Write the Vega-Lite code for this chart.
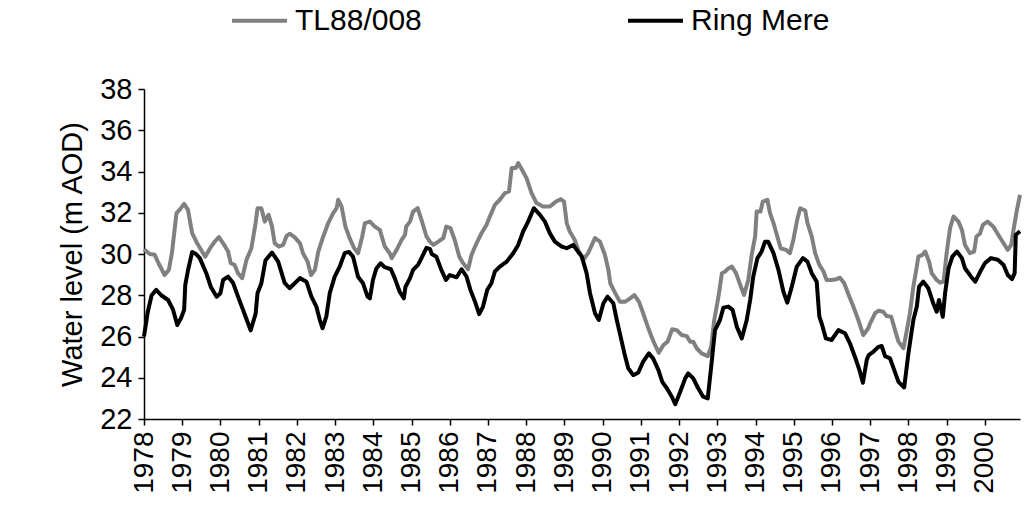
{
  "$schema": "https://vega.github.io/schema/vega-lite/v6.json",
  "autosize": {"type": "none"},
  "width": 876,
  "height": 330,
  "padding": {"left": 144, "top": 89, "right": 11, "bottom": 99},
  "background": "white",
  "config": {
    "view": {"stroke": null},
    "font": "Liberation Sans",
    "axis": {"grid": false, "domainColor": "black", "tickColor": "black", "labelColor": "black", "titleColor": "black", "domainWidth": 1.5, "tickWidth": 1.5}
  },
  "datasets": {
    "series": [
      {"s":"TL88/008","t":1978.0,"v":30.23},{"s":"TL88/008","t":1978.15,"v":30.0},{"s":"TL88/008","t":1978.28,"v":29.96},{"s":"TL88/008","t":1978.38,"v":29.55},{"s":"TL88/008","t":1978.54,"v":28.98},{"s":"TL88/008","t":1978.65,"v":29.23},{"s":"TL88/008","t":1978.73,"v":30.04},{"s":"TL88/008","t":1978.85,"v":31.98},{"s":"TL88/008","t":1978.93,"v":32.14},{"s":"TL88/008","t":1979.05,"v":32.43},{"s":"TL88/008","t":1979.15,"v":32.14},{"s":"TL88/008","t":1979.26,"v":31.01},{"s":"TL88/008","t":1979.39,"v":30.52},{"s":"TL88/008","t":1979.52,"v":30.12},{"s":"TL88/008","t":1979.6,"v":29.87},{"s":"TL88/008","t":1979.73,"v":30.28},{"s":"TL88/008","t":1979.85,"v":30.6},{"s":"TL88/008","t":1979.96,"v":30.82},{"s":"TL88/008","t":1980.07,"v":30.52},{"s":"TL88/008","t":1980.2,"v":30.12},{"s":"TL88/008","t":1980.27,"v":29.55},{"s":"TL88/008","t":1980.37,"v":29.47},{"s":"TL88/008","t":1980.46,"v":29.07},{"s":"TL88/008","t":1980.57,"v":28.83},{"s":"TL88/008","t":1980.68,"v":29.71},{"s":"TL88/008","t":1980.81,"v":30.28},{"s":"TL88/008","t":1980.92,"v":31.5},{"s":"TL88/008","t":1980.97,"v":32.22},{"s":"TL88/008","t":1981.07,"v":32.22},{"s":"TL88/008","t":1981.16,"v":31.57},{"s":"TL88/008","t":1981.26,"v":31.9},{"s":"TL88/008","t":1981.35,"v":31.33},{"s":"TL88/008","t":1981.42,"v":30.52},{"s":"TL88/008","t":1981.53,"v":30.36},{"s":"TL88/008","t":1981.64,"v":30.44},{"s":"TL88/008","t":1981.73,"v":30.88},{"s":"TL88/008","t":1981.81,"v":30.98},{"s":"TL88/008","t":1981.94,"v":30.82},{"s":"TL88/008","t":1982.08,"v":30.52},{"s":"TL88/008","t":1982.16,"v":30.04},{"s":"TL88/008","t":1982.28,"v":29.63},{"s":"TL88/008","t":1982.37,"v":28.98},{"s":"TL88/008","t":1982.47,"v":29.23},{"s":"TL88/008","t":1982.56,"v":30.12},{"s":"TL88/008","t":1982.69,"v":30.85},{"s":"TL88/008","t":1982.82,"v":31.5},{"s":"TL88/008","t":1982.95,"v":31.98},{"s":"TL88/008","t":1983.04,"v":32.22},{"s":"TL88/008","t":1983.08,"v":32.63},{"s":"TL88/008","t":1983.17,"v":32.3},{"s":"TL88/008","t":1983.27,"v":31.33},{"s":"TL88/008","t":1983.38,"v":30.77},{"s":"TL88/008","t":1983.5,"v":30.28},{"s":"TL88/008","t":1983.6,"v":30.04},{"s":"TL88/008","t":1983.71,"v":30.85},{"s":"TL88/008","t":1983.78,"v":31.5},{"s":"TL88/008","t":1983.91,"v":31.57},{"s":"TL88/008","t":1984.04,"v":31.33},{"s":"TL88/008","t":1984.17,"v":31.17},{"s":"TL88/008","t":1984.3,"v":30.36},{"s":"TL88/008","t":1984.43,"v":30.04},{"s":"TL88/008","t":1984.48,"v":29.8},{"s":"TL88/008","t":1984.61,"v":30.2},{"s":"TL88/008","t":1984.74,"v":30.68},{"s":"TL88/008","t":1984.83,"v":30.93},{"s":"TL88/008","t":1984.86,"v":31.33},{"s":"TL88/008","t":1984.96,"v":31.57},{"s":"TL88/008","t":1985.04,"v":32.06},{"s":"TL88/008","t":1985.16,"v":32.22},{"s":"TL88/008","t":1985.26,"v":31.66},{"s":"TL88/008","t":1985.39,"v":30.85},{"s":"TL88/008","t":1985.48,"v":30.6},{"s":"TL88/008","t":1985.57,"v":30.44},{"s":"TL88/008","t":1985.7,"v":30.6},{"s":"TL88/008","t":1985.83,"v":30.77},{"s":"TL88/008","t":1985.91,"v":31.33},{"s":"TL88/008","t":1986.02,"v":31.25},{"s":"TL88/008","t":1986.13,"v":30.68},{"s":"TL88/008","t":1986.25,"v":29.87},{"s":"TL88/008","t":1986.35,"v":29.55},{"s":"TL88/008","t":1986.48,"v":29.26},{"s":"TL88/008","t":1986.57,"v":29.96},{"s":"TL88/008","t":1986.7,"v":30.52},{"s":"TL88/008","t":1986.83,"v":31.01},{"s":"TL88/008","t":1986.96,"v":31.41},{"s":"TL88/008","t":1987.05,"v":31.82},{"s":"TL88/008","t":1987.18,"v":32.38},{"s":"TL88/008","t":1987.31,"v":32.63},{"s":"TL88/008","t":1987.44,"v":32.95},{"s":"TL88/008","t":1987.55,"v":33.03},{"s":"TL88/008","t":1987.62,"v":34.17},{"s":"TL88/008","t":1987.73,"v":34.17},{"s":"TL88/008","t":1987.79,"v":34.41},{"s":"TL88/008","t":1987.88,"v":34.12},{"s":"TL88/008","t":1988.01,"v":33.68},{"s":"TL88/008","t":1988.14,"v":32.95},{"s":"TL88/008","t":1988.27,"v":32.47},{"s":"TL88/008","t":1988.44,"v":32.3},{"s":"TL88/008","t":1988.62,"v":32.3},{"s":"TL88/008","t":1988.78,"v":32.54},{"s":"TL88/008","t":1988.9,"v":32.66},{"s":"TL88/008","t":1988.99,"v":32.54},{"s":"TL88/008","t":1989.06,"v":31.5},{"s":"TL88/008","t":1989.14,"v":31.09},{"s":"TL88/008","t":1989.27,"v":30.68},{"s":"TL88/008","t":1989.36,"v":30.2},{"s":"TL88/008","t":1989.49,"v":29.71},{"s":"TL88/008","t":1989.62,"v":30.04},{"s":"TL88/008","t":1989.8,"v":30.77},{"s":"TL88/008","t":1989.93,"v":30.6},{"s":"TL88/008","t":1990.06,"v":29.96},{"s":"TL88/008","t":1990.15,"v":29.23},{"s":"TL88/008","t":1990.2,"v":28.58},{"s":"TL88/008","t":1990.33,"v":28.1},{"s":"TL88/008","t":1990.45,"v":27.69},{"s":"TL88/008","t":1990.59,"v":27.69},{"s":"TL88/008","t":1990.72,"v":27.85},{"s":"TL88/008","t":1990.83,"v":28.01},{"s":"TL88/008","t":1990.95,"v":27.69},{"s":"TL88/008","t":1991.06,"v":27.13},{"s":"TL88/008","t":1991.18,"v":26.48},{"s":"TL88/008","t":1991.28,"v":25.99},{"s":"TL88/008","t":1991.37,"v":25.59},{"s":"TL88/008","t":1991.47,"v":25.21},{"s":"TL88/008","t":1991.59,"v":25.59},{"s":"TL88/008","t":1991.7,"v":25.75},{"s":"TL88/008","t":1991.82,"v":26.35},{"s":"TL88/008","t":1991.94,"v":26.31},{"s":"TL88/008","t":1992.07,"v":26.07},{"s":"TL88/008","t":1992.2,"v":26.02},{"s":"TL88/008","t":1992.29,"v":25.75},{"s":"TL88/008","t":1992.37,"v":25.75},{"s":"TL88/008","t":1992.46,"v":25.43},{"s":"TL88/008","t":1992.59,"v":25.18},{"s":"TL88/008","t":1992.75,"v":25.05},{"s":"TL88/008","t":1992.84,"v":25.5},{"s":"TL88/008","t":1992.92,"v":26.8},{"s":"TL88/008","t":1993.03,"v":27.93},{"s":"TL88/008","t":1993.12,"v":29.07},{"s":"TL88/008","t":1993.21,"v":29.15},{"s":"TL88/008","t":1993.26,"v":29.26},{"s":"TL88/008","t":1993.38,"v":29.39},{"s":"TL88/008","t":1993.49,"v":29.07},{"s":"TL88/008","t":1993.6,"v":28.5},{"s":"TL88/008","t":1993.7,"v":28.01},{"s":"TL88/008","t":1993.81,"v":28.74},{"s":"TL88/008","t":1993.9,"v":29.96},{"s":"TL88/008","t":1993.99,"v":30.85},{"s":"TL88/008","t":1994.03,"v":32.06},{"s":"TL88/008","t":1994.13,"v":32.06},{"s":"TL88/008","t":1994.19,"v":32.54},{"s":"TL88/008","t":1994.31,"v":32.63},{"s":"TL88/008","t":1994.38,"v":31.98},{"s":"TL88/008","t":1994.47,"v":31.5},{"s":"TL88/008","t":1994.57,"v":30.85},{"s":"TL88/008","t":1994.66,"v":30.28},{"s":"TL88/008","t":1994.8,"v":30.2},{"s":"TL88/008","t":1994.9,"v":30.04},{"s":"TL88/008","t":1994.99,"v":30.68},{"s":"TL88/008","t":1995.09,"v":31.66},{"s":"TL88/008","t":1995.17,"v":32.22},{"s":"TL88/008","t":1995.3,"v":32.11},{"s":"TL88/008","t":1995.36,"v":31.5},{"s":"TL88/008","t":1995.47,"v":30.85},{"s":"TL88/008","t":1995.56,"v":30.04},{"s":"TL88/008","t":1995.67,"v":29.47},{"s":"TL88/008","t":1995.78,"v":29.15},{"s":"TL88/008","t":1995.86,"v":28.74},{"s":"TL88/008","t":1995.99,"v":28.74},{"s":"TL88/008","t":1996.12,"v":28.78},{"s":"TL88/008","t":1996.21,"v":28.85},{"s":"TL88/008","t":1996.32,"v":28.58},{"s":"TL88/008","t":1996.42,"v":28.1},{"s":"TL88/008","t":1996.56,"v":27.45},{"s":"TL88/008","t":1996.69,"v":26.8},{"s":"TL88/008","t":1996.82,"v":26.07},{"s":"TL88/008","t":1996.95,"v":26.4},{"s":"TL88/008","t":1997.0,"v":26.64},{"s":"TL88/008","t":1997.13,"v":27.13},{"s":"TL88/008","t":1997.22,"v":27.25},{"s":"TL88/008","t":1997.34,"v":27.2},{"s":"TL88/008","t":1997.43,"v":26.99},{"s":"TL88/008","t":1997.55,"v":26.96},{"s":"TL88/008","t":1997.65,"v":26.31},{"s":"TL88/008","t":1997.74,"v":25.75},{"s":"TL88/008","t":1997.87,"v":25.43},{"s":"TL88/008","t":1997.96,"v":26.31},{"s":"TL88/008","t":1998.04,"v":27.13},{"s":"TL88/008","t":1998.13,"v":28.42},{"s":"TL88/008","t":1998.22,"v":29.39},{"s":"TL88/008","t":1998.26,"v":29.87},{"s":"TL88/008","t":1998.37,"v":29.96},{"s":"TL88/008","t":1998.44,"v":30.12},{"s":"TL88/008","t":1998.54,"v":29.63},{"s":"TL88/008","t":1998.61,"v":29.07},{"s":"TL88/008","t":1998.74,"v":28.74},{"s":"TL88/008","t":1998.83,"v":28.61},{"s":"TL88/008","t":1998.92,"v":28.66},{"s":"TL88/008","t":1999.0,"v":30.04},{"s":"TL88/008","t":1999.09,"v":31.25},{"s":"TL88/008","t":1999.18,"v":31.82},{"s":"TL88/008","t":1999.31,"v":31.57},{"s":"TL88/008","t":1999.4,"v":31.17},{"s":"TL88/008","t":1999.48,"v":30.44},{"s":"TL88/008","t":1999.61,"v":30.04},{"s":"TL88/008","t":1999.72,"v":30.12},{"s":"TL88/008","t":1999.78,"v":30.85},{"s":"TL88/008","t":1999.87,"v":30.98},{"s":"TL88/008","t":1999.95,"v":31.41},{"s":"TL88/008","t":2000.07,"v":31.57},{"s":"TL88/008","t":2000.22,"v":31.33},{"s":"TL88/008","t":2000.35,"v":30.93},{"s":"TL88/008","t":2000.49,"v":30.52},{"s":"TL88/008","t":2000.6,"v":30.2},{"s":"TL88/008","t":2000.69,"v":30.44},{"s":"TL88/008","t":2000.75,"v":31.17},{"s":"TL88/008","t":2000.84,"v":32.14},{"s":"TL88/008","t":2000.92,"v":32.87},
      {"s":"Ring Mere","t":1978.0,"v":26.0},{"s":"Ring Mere","t":1978.1,"v":27.2},{"s":"Ring Mere","t":1978.2,"v":28.0},{"s":"Ring Mere","t":1978.32,"v":28.26},{"s":"Ring Mere","t":1978.45,"v":28.0},{"s":"Ring Mere","t":1978.63,"v":27.77},{"s":"Ring Mere","t":1978.76,"v":27.3},{"s":"Ring Mere","t":1978.87,"v":26.56},{"s":"Ring Mere","t":1978.97,"v":26.9},{"s":"Ring Mere","t":1979.05,"v":27.3},{"s":"Ring Mere","t":1979.08,"v":28.5},{"s":"Ring Mere","t":1979.15,"v":29.2},{"s":"Ring Mere","t":1979.26,"v":30.1},{"s":"Ring Mere","t":1979.36,"v":30.0},{"s":"Ring Mere","t":1979.46,"v":29.8},{"s":"Ring Mere","t":1979.63,"v":29.07},{"s":"Ring Mere","t":1979.75,"v":28.4},{"s":"Ring Mere","t":1979.9,"v":27.93},{"s":"Ring Mere","t":1980.0,"v":28.1},{"s":"Ring Mere","t":1980.07,"v":28.74},{"s":"Ring Mere","t":1980.2,"v":28.9},{"s":"Ring Mere","t":1980.33,"v":28.6},{"s":"Ring Mere","t":1980.46,"v":27.93},{"s":"Ring Mere","t":1980.59,"v":27.3},{"s":"Ring Mere","t":1980.79,"v":26.3},{"s":"Ring Mere","t":1980.92,"v":27.1},{"s":"Ring Mere","t":1980.97,"v":28.1},{"s":"Ring Mere","t":1981.07,"v":28.58},{"s":"Ring Mere","t":1981.18,"v":29.7},{"s":"Ring Mere","t":1981.35,"v":30.07},{"s":"Ring Mere","t":1981.51,"v":29.63},{"s":"Ring Mere","t":1981.68,"v":28.6},{"s":"Ring Mere","t":1981.81,"v":28.34},{"s":"Ring Mere","t":1982.08,"v":28.83},{"s":"Ring Mere","t":1982.25,"v":28.66},{"s":"Ring Mere","t":1982.38,"v":27.93},{"s":"Ring Mere","t":1982.51,"v":27.45},{"s":"Ring Mere","t":1982.6,"v":26.8},{"s":"Ring Mere","t":1982.67,"v":26.4},{"s":"Ring Mere","t":1982.77,"v":26.96},{"s":"Ring Mere","t":1982.86,"v":28.1},{"s":"Ring Mere","t":1982.99,"v":28.9},{"s":"Ring Mere","t":1983.12,"v":29.39},{"s":"Ring Mere","t":1983.25,"v":30.04},{"s":"Ring Mere","t":1983.36,"v":30.1},{"s":"Ring Mere","t":1983.47,"v":29.87},{"s":"Ring Mere","t":1983.6,"v":28.9},{"s":"Ring Mere","t":1983.73,"v":28.58},{"s":"Ring Mere","t":1983.85,"v":27.93},{"s":"Ring Mere","t":1983.91,"v":27.85},{"s":"Ring Mere","t":1983.99,"v":28.74},{"s":"Ring Mere","t":1984.08,"v":29.3},{"s":"Ring Mere","t":1984.19,"v":29.55},{"s":"Ring Mere","t":1984.3,"v":29.36},{"s":"Ring Mere","t":1984.46,"v":29.26},{"s":"Ring Mere","t":1984.56,"v":28.83},{"s":"Ring Mere","t":1984.69,"v":28.17},{"s":"Ring Mere","t":1984.8,"v":27.85},{"s":"Ring Mere","t":1984.84,"v":28.4},{"s":"Ring Mere","t":1984.96,"v":28.83},{"s":"Ring Mere","t":1985.04,"v":29.23},{"s":"Ring Mere","t":1985.17,"v":29.47},{"s":"Ring Mere","t":1985.26,"v":29.8},{"s":"Ring Mere","t":1985.39,"v":30.3},{"s":"Ring Mere","t":1985.48,"v":30.25},{"s":"Ring Mere","t":1985.53,"v":30.0},{"s":"Ring Mere","t":1985.65,"v":29.87},{"s":"Ring Mere","t":1985.78,"v":29.23},{"s":"Ring Mere","t":1985.9,"v":28.74},{"s":"Ring Mere","t":1986.0,"v":28.98},{"s":"Ring Mere","t":1986.18,"v":28.87},{"s":"Ring Mere","t":1986.31,"v":29.26},{"s":"Ring Mere","t":1986.44,"v":28.9},{"s":"Ring Mere","t":1986.54,"v":28.26},{"s":"Ring Mere","t":1986.66,"v":27.69},{"s":"Ring Mere","t":1986.77,"v":27.08},{"s":"Ring Mere","t":1986.87,"v":27.45},{"s":"Ring Mere","t":1986.98,"v":28.26},{"s":"Ring Mere","t":1987.09,"v":28.58},{"s":"Ring Mere","t":1987.18,"v":29.15},{"s":"Ring Mere","t":1987.31,"v":29.39},{"s":"Ring Mere","t":1987.49,"v":29.63},{"s":"Ring Mere","t":1987.66,"v":30.04},{"s":"Ring Mere","t":1987.79,"v":30.44},{"s":"Ring Mere","t":1987.92,"v":31.09},{"s":"Ring Mere","t":1988.05,"v":31.57},{"s":"Ring Mere","t":1988.2,"v":32.22},{"s":"Ring Mere","t":1988.36,"v":31.9},{"s":"Ring Mere","t":1988.49,"v":31.57},{"s":"Ring Mere","t":1988.62,"v":31.0},{"s":"Ring Mere","t":1988.75,"v":30.6},{"s":"Ring Mere","t":1988.93,"v":30.36},{"s":"Ring Mere","t":1989.06,"v":30.28},{"s":"Ring Mere","t":1989.23,"v":30.44},{"s":"Ring Mere","t":1989.36,"v":30.1},{"s":"Ring Mere","t":1989.45,"v":29.9},{"s":"Ring Mere","t":1989.58,"v":29.07},{"s":"Ring Mere","t":1989.67,"v":28.1},{"s":"Ring Mere","t":1989.8,"v":27.13},{"s":"Ring Mere","t":1989.9,"v":26.8},{"s":"Ring Mere","t":1990.02,"v":27.61},{"s":"Ring Mere","t":1990.13,"v":27.93},{"s":"Ring Mere","t":1990.28,"v":27.61},{"s":"Ring Mere","t":1990.37,"v":26.8},{"s":"Ring Mere","t":1990.45,"v":26.15},{"s":"Ring Mere","t":1990.57,"v":25.18},{"s":"Ring Mere","t":1990.67,"v":24.46},{"s":"Ring Mere","t":1990.8,"v":24.13},{"s":"Ring Mere","t":1990.93,"v":24.24},{"s":"Ring Mere","t":1991.06,"v":24.78},{"s":"Ring Mere","t":1991.21,"v":25.18},{"s":"Ring Mere","t":1991.32,"v":24.94},{"s":"Ring Mere","t":1991.46,"v":24.37},{"s":"Ring Mere","t":1991.56,"v":23.8},{"s":"Ring Mere","t":1991.68,"v":23.49},{"s":"Ring Mere","t":1991.81,"v":23.08},{"s":"Ring Mere","t":1991.9,"v":22.72},{"s":"Ring Mere","t":1992.03,"v":23.32},{"s":"Ring Mere","t":1992.16,"v":23.97},{"s":"Ring Mere","t":1992.24,"v":24.21},{"s":"Ring Mere","t":1992.37,"v":23.97},{"s":"Ring Mere","t":1992.5,"v":23.49},{"s":"Ring Mere","t":1992.63,"v":23.08},{"s":"Ring Mere","t":1992.75,"v":23.0},{"s":"Ring Mere","t":1992.84,"v":24.53},{"s":"Ring Mere","t":1992.94,"v":26.31},{"s":"Ring Mere","t":1993.07,"v":26.8},{"s":"Ring Mere","t":1993.16,"v":27.4},{"s":"Ring Mere","t":1993.29,"v":27.45},{"s":"Ring Mere","t":1993.4,"v":27.29},{"s":"Ring Mere","t":1993.51,"v":26.48},{"s":"Ring Mere","t":1993.64,"v":25.91},{"s":"Ring Mere","t":1993.77,"v":26.8},{"s":"Ring Mere","t":1993.86,"v":27.77},{"s":"Ring Mere","t":1993.94,"v":28.9},{"s":"Ring Mere","t":1994.05,"v":29.8},{"s":"Ring Mere","t":1994.16,"v":30.12},{"s":"Ring Mere","t":1994.25,"v":30.6},{"s":"Ring Mere","t":1994.33,"v":30.6},{"s":"Ring Mere","t":1994.47,"v":30.04},{"s":"Ring Mere","t":1994.6,"v":29.23},{"s":"Ring Mere","t":1994.73,"v":28.17},{"s":"Ring Mere","t":1994.83,"v":27.64},{"s":"Ring Mere","t":1994.95,"v":28.42},{"s":"Ring Mere","t":1995.08,"v":29.39},{"s":"Ring Mere","t":1995.24,"v":29.8},{"s":"Ring Mere","t":1995.36,"v":29.63},{"s":"Ring Mere","t":1995.47,"v":29.07},{"s":"Ring Mere","t":1995.6,"v":28.66},{"s":"Ring Mere","t":1995.67,"v":26.96},{"s":"Ring Mere","t":1995.73,"v":26.64},{"s":"Ring Mere","t":1995.84,"v":25.91},{"s":"Ring Mere","t":1995.99,"v":25.83},{"s":"Ring Mere","t":1996.17,"v":26.31},{"s":"Ring Mere","t":1996.34,"v":26.16},{"s":"Ring Mere","t":1996.47,"v":25.67},{"s":"Ring Mere","t":1996.6,"v":25.02},{"s":"Ring Mere","t":1996.72,"v":24.37},{"s":"Ring Mere","t":1996.81,"v":23.76},{"s":"Ring Mere","t":1996.91,"v":24.86},{"s":"Ring Mere","t":1996.96,"v":25.1},{"s":"Ring Mere","t":1997.08,"v":25.26},{"s":"Ring Mere","t":1997.22,"v":25.5},{"s":"Ring Mere","t":1997.3,"v":25.54},{"s":"Ring Mere","t":1997.39,"v":25.05},{"s":"Ring Mere","t":1997.52,"v":24.94},{"s":"Ring Mere","t":1997.63,"v":24.37},{"s":"Ring Mere","t":1997.74,"v":23.8},{"s":"Ring Mere","t":1997.89,"v":23.53},{"s":"Ring Mere","t":1998.0,"v":25.18},{"s":"Ring Mere","t":1998.13,"v":26.8},{"s":"Ring Mere","t":1998.22,"v":27.45},{"s":"Ring Mere","t":1998.28,"v":28.42},{"s":"Ring Mere","t":1998.39,"v":28.66},{"s":"Ring Mere","t":1998.52,"v":28.34},{"s":"Ring Mere","t":1998.65,"v":27.61},{"s":"Ring Mere","t":1998.74,"v":27.2},{"s":"Ring Mere","t":1998.8,"v":27.77},{"s":"Ring Mere","t":1998.9,"v":26.96},{"s":"Ring Mere","t":1998.96,"v":28.1},{"s":"Ring Mere","t":1999.05,"v":29.3},{"s":"Ring Mere","t":1999.15,"v":29.87},{"s":"Ring Mere","t":1999.27,"v":30.12},{"s":"Ring Mere","t":1999.4,"v":29.8},{"s":"Ring Mere","t":1999.48,"v":29.31},{"s":"Ring Mere","t":1999.64,"v":28.9},{"s":"Ring Mere","t":1999.75,"v":28.66},{"s":"Ring Mere","t":1999.88,"v":29.15},{"s":"Ring Mere","t":2000.0,"v":29.55},{"s":"Ring Mere","t":2000.16,"v":29.8},{"s":"Ring Mere","t":2000.34,"v":29.72},{"s":"Ring Mere","t":2000.49,"v":29.47},{"s":"Ring Mere","t":2000.6,"v":28.98},{"s":"Ring Mere","t":2000.71,"v":28.78},{"s":"Ring Mere","t":2000.78,"v":29.07},{"s":"Ring Mere","t":2000.81,"v":30.93},{"s":"Ring Mere","t":2000.92,"v":31.1}
    ]
  },
  "data": {"name": "series"},
  "mark": {"type": "line", "strokeWidth": 4, "strokeJoin": "round"},
  "encoding": {
    "x": {
      "field": "t", "type": "quantitative",
      "scale": {"domain": [1978, 2000.92], "nice": false, "zero": false},
      "axis": {
        "title": null,
        "values": [1978,1979,1980,1981,1982,1983,1984,1985,1986,1987,1988,1989,1990,1991,1992,1993,1994,1995,1996,1997,1998,1999,2000],
        "format": "d", "labelAngle": 270, "labelFontSize": 28, "labelPadding": 6, "tickSize": 6, "labelOverlap": false, "labelFlush": false
      }
    },
    "y": {
      "field": "v", "type": "quantitative",
      "scale": {"domain": [22, 38], "nice": false, "zero": false},
      "axis": {
        "title": "Water level (m AOD)", "titleFontSize": 29, "titleFontWeight": "normal", "titlePadding": 12,
        "values": [22,24,26,28,30,32,34,36,38], "labelFontSize": 29, "labelPadding": 6, "tickSize": 6
      }
    },
    "color": {
      "field": "s", "type": "nominal",
      "scale": {"domain": ["TL88/008", "Ring Mere"], "range": ["#808080", "#000000"]},
      "legend": {
        "title": null, "orient": "none", "direction": "horizontal", "legendX": 86, "legendY": -98,
        "symbolType": "stroke", "symbolSize": 3025, "symbolStrokeWidth": 4, "labelFontSize": 30, "labelOffset": 6, "columnPadding": 198, "labelLimit": 300, "labelColor": "black"
      }
    },
    "order": {"field": "s", "sort": "descending"}
  }
}
